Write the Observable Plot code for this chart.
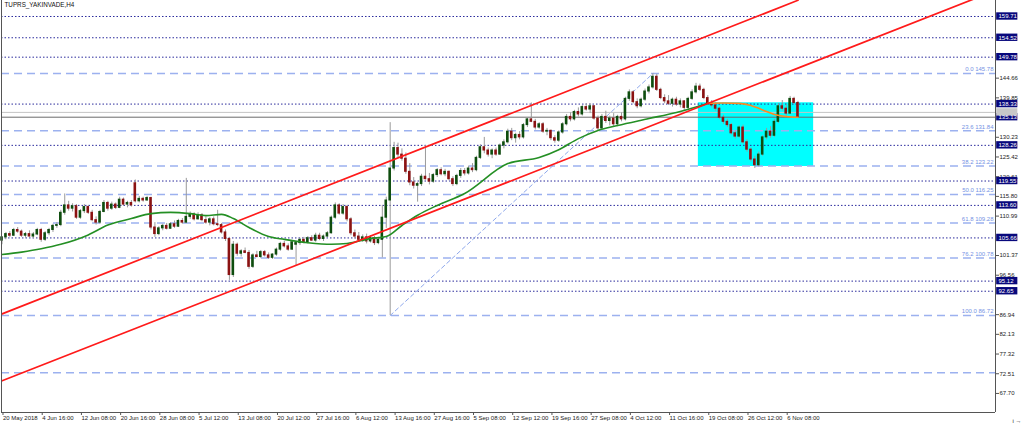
<!DOCTYPE html>
<html><head><meta charset="utf-8">
<script src="https://cdn.jsdelivr.net/npm/d3@7"></script>
<script src="https://cdn.jsdelivr.net/npm/@observablehq/plot@0.6"></script>
<style>body{margin:0;background:#fff}</style>
</head><body><div id="chart"></div>
<script>
const title = "TUPRS_YAKINVADE,H4";

const opens = [105.0,105.8,106.6,106.2,107.6,107.2,106.2,106.6,106.0,106.5,
107.6,105.2,106.8,107.6,108.6,108.8,111.8,113.6,112.8,113.4,
110.6,112.2,113.2,111.8,110.0,109.4,112.0,114.2,112.8,113.8,
113.0,115.0,113.8,114.2,119.0,114.6,115.2,114.8,115.4,108.2,
106.6,108.0,108.6,107.9,109.0,108.4,109.8,109.4,110.8,111.4,
110.2,111.2,110.0,109.4,110.2,109.0,108.8,107.0,105.4,96.6,
104.0,101.8,102.4,102.0,98.6,101.4,101.0,102.2,101.4,100.8,
101.6,102.8,104.2,103.6,102.8,104.0,104.4,105.2,104.6,105.6,
105.0,106.2,105.4,106.0,106.8,110.6,113.6,111.6,113.2,110.2,
106.8,106.0,105.2,105.8,104.8,105.6,104.4,105.2,110.6,114.8,
122.6,127.6,126.0,125.0,121.8,119.2,118.4,118.8,120.6,120.0,
119.4,121.0,122.2,121.2,121.8,120.0,118.8,120.8,122.0,121.4,
122.6,122.2,125.2,127.8,127.0,126.0,127.0,126.0,128.2,129.0,
131.6,130.0,130.8,130.2,133.2,134.6,134.0,132.6,133.4,131.6,
131.8,130.0,129.4,131.4,133.4,135.2,134.6,136.4,135.8,137.6,
137.0,137.8,134.8,132.4,135.2,134.2,134.8,133.4,135.2,134.6,
139.6,141.2,138.8,137.8,139.4,141.4,142.4,145.0,141.8,139.8,
139.0,138.4,139.4,138.2,139.0,137.4,139.6,141.2,142.6,141.8,
139.8,138.6,138.0,137.2,135.0,134.0,133.2,131.2,130.4,132.6,
129.0,127.2,124.8,123.4,126.0,130.2,131.6,130.6,134.0,137.8,
137.2,136.0,139.6,138.6];
const highs = [106.0,107.0,107.2,108.0,108.2,107.6,107.0,107.4,107.0,108.0,
108.0,107.2,108.0,109.0,109.4,112.4,116.4,114.6,114.0,113.8,
112.6,113.8,113.6,112.4,110.8,112.4,114.8,114.6,114.4,114.2,
115.6,115.4,114.6,114.8,119.8,115.8,115.6,115.8,115.6,109.4,
108.4,109.0,109.2,109.4,109.8,110.2,110.4,120.2,112.0,111.8,
111.8,111.6,110.8,110.6,110.8,112.4,109.2,107.6,105.8,104.8,
104.4,102.8,103.2,102.6,101.8,102.4,102.6,102.6,102.0,101.8,
103.2,104.6,104.8,104.2,105.0,104.8,105.6,105.8,106.0,106.2,
106.8,106.8,106.4,107.2,111.0,114.2,114.0,113.8,113.6,110.6,
107.6,107.0,106.4,106.6,106.2,106.0,105.8,113.6,115.6,133.8,
129.0,128.8,127.4,126.4,123.8,120.4,119.2,121.2,128.2,121.4,
121.4,122.6,122.8,122.4,122.0,120.6,121.2,122.6,122.6,123.2,
123.8,125.6,128.4,130.2,127.6,127.4,127.6,128.6,129.6,132.2,
132.4,131.2,131.6,133.6,135.0,138.6,134.6,133.8,133.8,132.4,
132.0,130.6,131.8,133.8,135.8,136.2,136.8,137.4,138.0,138.4,
138.4,138.0,135.4,135.8,136.6,135.4,136.0,135.6,136.2,140.0,
141.8,141.6,139.6,139.8,142.0,143.0,145.78,145.6,142.2,140.6,
140.4,139.8,140.0,139.6,139.2,140.0,141.8,143.4,143.2,142.2,
140.4,139.2,138.6,137.6,135.6,134.6,133.6,131.8,133.0,133.2,
129.6,127.6,125.6,126.6,130.6,132.4,132.8,134.6,138.4,139.2,
138.2,140.2,140.0,139.0];
const lows = [104.0,105.2,105.8,106.0,106.8,105.8,105.6,105.9,105.5,106.2,
104.6,104.8,106.2,107.0,108.0,108.4,111.2,112.2,112.0,110.2,
110.2,111.6,111.4,109.6,108.8,109.0,111.8,112.2,112.4,112.6,
112.8,113.4,113.0,113.2,114.2,114.2,114.4,114.6,107.6,105.8,
106.2,107.4,107.6,107.8,108.0,108.2,109.0,109.2,110.2,109.8,
110.0,109.6,109.0,108.6,108.6,108.4,106.6,104.8,95.3,96.0,
101.2,101.0,101.8,98.0,98.2,100.8,100.6,101.0,100.4,100.4,
101.2,102.4,103.2,102.4,102.6,98.9,103.8,104.2,104.2,104.8,
104.6,105.0,104.8,105.8,106.6,110.2,111.2,111.2,109.6,106.2,
105.4,104.8,104.6,104.2,104.4,103.8,104.0,100.8,108.0,86.72,
122.0,125.2,124.4,121.2,118.4,117.6,114.4,118.2,119.8,118.6,
119.0,120.4,120.8,120.6,119.6,118.2,118.4,120.2,120.8,121.0,
121.6,121.8,124.8,126.2,125.4,125.0,125.6,125.8,127.4,128.6,
129.4,128.8,129.6,129.8,132.6,133.8,132.0,132.2,131.2,130.6,
129.4,128.8,129.0,131.0,133.0,134.0,134.2,135.2,135.4,136.6,
136.0,134.4,131.8,132.0,133.6,133.0,132.8,132.8,134.0,134.2,
139.0,138.4,137.2,137.4,139.0,140.8,142.0,141.4,139.4,138.4,
138.0,137.6,137.8,137.4,136.8,137.0,139.2,140.8,141.4,139.4,
138.2,137.4,136.6,134.6,133.4,132.6,130.8,129.8,130.0,128.6,
126.6,124.2,122.6,123.0,125.6,129.6,130.0,130.2,133.6,136.6,
135.4,135.8,138.2,134.8];
const closes = [105.8,106.6,106.2,107.6,107.2,106.2,106.6,106.0,106.5,107.6,
105.2,106.8,107.6,108.6,108.8,111.8,113.6,112.8,113.4,110.6,
112.2,113.2,111.8,110.0,109.4,112.0,114.2,112.8,113.8,113.0,
115.0,113.8,114.2,113.6,114.6,115.2,114.8,115.4,108.2,106.6,
108.0,108.6,107.9,109.0,108.4,109.8,109.4,110.8,111.4,110.2,
111.2,110.0,109.4,110.2,109.0,108.8,107.0,105.4,96.6,104.0,
101.8,102.4,102.0,98.6,101.4,101.0,102.2,101.4,100.8,101.6,
102.8,104.2,103.6,102.8,104.6,104.4,105.2,104.6,105.6,105.0,
106.2,105.4,106.0,106.8,110.6,113.6,111.6,113.2,110.2,106.8,
106.0,105.2,105.8,104.8,105.6,104.4,105.2,110.6,114.8,122.6,
127.6,126.0,125.0,121.8,119.2,118.4,118.8,120.6,120.0,119.4,
121.0,122.2,121.2,121.8,120.0,118.8,120.8,122.0,121.4,122.6,
122.2,125.2,127.8,127.0,126.0,127.0,126.0,128.2,129.0,131.6,
130.0,130.8,130.2,133.2,134.6,134.0,132.6,133.4,131.6,131.8,
130.0,129.4,131.4,133.4,135.2,134.6,136.4,135.8,137.6,137.0,
137.8,134.8,132.4,135.2,134.2,134.8,133.4,135.2,134.6,139.6,
141.2,138.8,137.8,139.4,141.4,142.4,145.0,141.8,139.8,139.0,
138.4,139.4,138.2,139.0,137.4,139.6,141.2,142.6,141.8,139.8,
138.6,138.0,137.2,135.0,134.0,133.2,131.2,130.4,132.6,129.0,
127.2,124.8,123.4,126.0,130.2,131.6,130.6,134.0,137.8,137.2,
136.0,139.6,138.6,135.13];

// moving average (green) read at bar indices
const maBars   = [0,5,10,15,22,27,33,38,43,48,52,56,59,63,68,72,78,84,88,94,98,102,106,111,118,129,137,142,147,152,157,165,172,180];
const maValues = [101.6,102.2,103.0,104.1,106.4,108.8,110.4,111.6,111.9,111.6,111.1,111.4,110.4,108.2,106.0,105.3,104.5,104.1,104.3,105.5,106.0,108.7,111.2,113.6,116.5,123.8,125.3,127.2,129.9,131.9,133.1,134.8,136.3,138.5];
// orange average (right part)
const orBars   = [180,184,188,191,193,195,197,200,203];
const orValues = [138.5,138.6,138.5,138.0,137.3,136.5,135.8,135.3,135.1];

// channel lines: [bar, price] anchors
const channelUpper = [[-0.13, 87.07], [203, 163.66]];
const channelLower = [[-0.13, 70.72], [250, 164.79]];

// fibonacci
const fibRatios = ["0.0","23.6","38.2","50.0","61.8","76.2","100.0"];
const fibPrices = [145.78,131.84,123.22,116.25,109.28,100.78,86.72];
const fibExtra = [72.78];
const fibAnchors = [[99, 86.72], [166, 145.78]];

// horizontal levels (dotted) with labels
const levelLabels = ["159.71","154.52","149.78","138.33","128.26","119.55","113.60","105.66","95.12","92.65"];
const bidLabel = "135.13";
const askPrice = 136.3;

// box zone
const zoneBars = [177.6, 207.0];
const zonePrices = [123.1, 138.65];

// axis ticks
const yTickLabels = ["67.70","72.51","77.32","82.13","86.94","91.75","96.56","101.37","106.18","110.99","115.80","120.61","125.42","130.23","135.04","139.85","144.66","149.47","154.28","159.09"];
const xTickBars = [0,10,20,30,40,50,60,70,80,90,100,110,120,130,140,150,160,170,180,190,200];
const xTickLabels = ["20 May 2018","4 Jun 16:00","12 Jun 08:00","20 Jun 16:00","28 Jun 08:00","5 Jul 12:00","13 Jul 08:00","20 Jul 12:00","27 Jul 16:00","6 Aug 12:00","13 Aug 16:00","27 Aug 16:00","5 Sep 08:00","12 Sep 12:00","19 Sep 16:00","27 Sep 08:00","4 Oct 12:00","11 Oct 16:00","19 Oct 08:00","26 Oct 12:00","6 Nov 08:00"];

// ---- build ----
const bars = opens.map((o, i) => ({i, o, h: highs[i], l: lows[i], c: closes[i]}));
const ma = maBars.map((b, k) => ({i: b, v: maValues[k]}));
const ora = orBars.map((b, k) => ({i: b, v: orValues[k]}));
const levels = levelLabels.map(s => ({s, v: +s}));
const bid = {s: bidLabel, v: +bidLabel};
const fibs = fibPrices.map((v, k) => ({v, t: fibRatios[k] + " " + v.toFixed(2)}));
const boxLevels = levels.map(d => d.v).concat([bid.v, askPrice]);
// grid labels that sit under a highlighted price box are hidden (as in the terminal)
const yTicks = yTickLabels.map(Number).filter(t => !boxLevels.some(b => Math.abs(b - t) < 1.0));

const X_MIN = -0.1275, X_MAX = 253.38;
const Y_MIN = 63.05, Y_MAX = 163.615;
const bodyHalf = 0.33;
const bull = "#0e4d0e", bear = "#8b1212", wick = "#9a9a9a";

const chart = Plot.plot({
  width: 1024, height: 425,
  marginLeft: 1, marginRight: 29, marginTop: 0, marginBottom: 13,
  style: {fontFamily: "'Liberation Sans', Arial, sans-serif", fontSize: "6px", color: "#1a1a1a", background: "#fff"},
  x: {domain: [X_MIN, X_MAX], axis: null},
  y: {domain: [Y_MIN, Y_MAX], axis: null},
  marks: [
    Plot.rect([0], {x1: () => zoneBars[0], x2: () => zoneBars[1], y1: () => zonePrices[0], y2: () => zonePrices[1], fill: "#00ffff"}),
    Plot.ruleY(fibPrices.concat(fibExtra), {stroke: "#9cb1ef", strokeWidth: 1.5, strokeDasharray: "8,5"}),
    Plot.ruleY(levels, {y: "v", stroke: "#2b2b9c", strokeWidth: 1, strokeDasharray: "1.5,2"}),
    Plot.ruleY([askPrice], {stroke: "#c4c4c4", strokeWidth: 1}),
    Plot.ruleY([bid], {y: "v", stroke: "#6a6a6a", strokeWidth: 1}),
    Plot.line(fibAnchors, {x: d => d[0], y: d => d[1], stroke: "#8ea8ec", strokeWidth: 1, strokeDasharray: "4,3"}),
    Plot.ruleX(bars, {x: "i", y1: "l", y2: "h", stroke: wick, strokeWidth: 1}),
    Plot.rect(bars.filter(d => d.c >= d.o), {x1: d => d.i - bodyHalf, x2: d => d.i + bodyHalf, y1: "o", y2: "c", fill: bull, insetTop: -0.5, insetBottom: -0.5}),
    Plot.rect(bars.filter(d => d.c < d.o), {x1: d => d.i - bodyHalf, x2: d => d.i + bodyHalf, y1: "o", y2: "c", fill: bear, insetTop: -0.5, insetBottom: -0.5}),
    Plot.line(ma, {x: "i", y: "v", stroke: "#248f24", strokeWidth: 1.6, curve: "monotone-x"}),
    Plot.line(ora, {x: "i", y: "v", stroke: "#ff8a1f", strokeWidth: 1.6, curve: "monotone-x"}),
    Plot.line(channelUpper, {x: d => d[0], y: d => d[1], stroke: "#ff1a1a", strokeWidth: 1.7, clip: true}),
    Plot.line(channelLower, {x: d => d[0], y: d => d[1], stroke: "#ff1a1a", strokeWidth: 1.7, clip: true}),
    Plot.text(fibs, {x: () => X_MAX, y: "v", text: "t", textAnchor: "end", dx: -2, dy: -4, fill: "#7592e4", fontSize: 6}),
    Plot.ruleX([X_MIN, X_MAX], {y1: Y_MIN, y2: Y_MAX, stroke: "#555", strokeWidth: 1}),
    Plot.ruleY([Y_MIN], {stroke: "#555", strokeWidth: 1.2}),
    Plot.axisY(yTicks, {anchor: "right", tickSize: 3, tickPadding: 1, tickFormat: d => d.toFixed(2), fontSize: 6, stroke: "#555", fill: "#222"}),
    Plot.axisX(xTickBars, {anchor: "bottom", tickSize: 3, tickPadding: 0, tickFormat: d => xTickLabels[xTickBars.indexOf(d)], textAnchor: "start", dx: 1, fontSize: 6, stroke: "#555", fill: "#222"}),
    Plot.rect(levels, {x1: () => X_MAX + 0.3, x2: () => X_MAX + 5.7, y1: d => d.v - 0.9, y2: d => d.v + 0.9, fill: "#08087c"}),
    Plot.rect([bid], {x1: () => X_MAX + 0.3, x2: () => X_MAX + 5.7, y1: d => d.v - 0.9, y2: d => d.v + 0.9, fill: "#08087c"}),
    Plot.rect([askPrice], {x1: () => X_MAX + 0.3, x2: () => X_MAX + 5.7, y1: d => d - 0.9, y2: d => d + 0.9, fill: "#c8c8c8"}),
    Plot.text(levels.concat([bid]), {x: () => X_MAX, y: "v", text: "s", textAnchor: "start", dx: 3, fill: "#fff", fontSize: 6}),
    Plot.text([title], {frameAnchor: "top-left", dx: 3, dy: 2, fontSize: 6.3, fill: "#111", textAnchor: "start", lineAnchor: "top"})
  ]
});
document.getElementById("chart").appendChild(chart);
</script>
</body></html>
